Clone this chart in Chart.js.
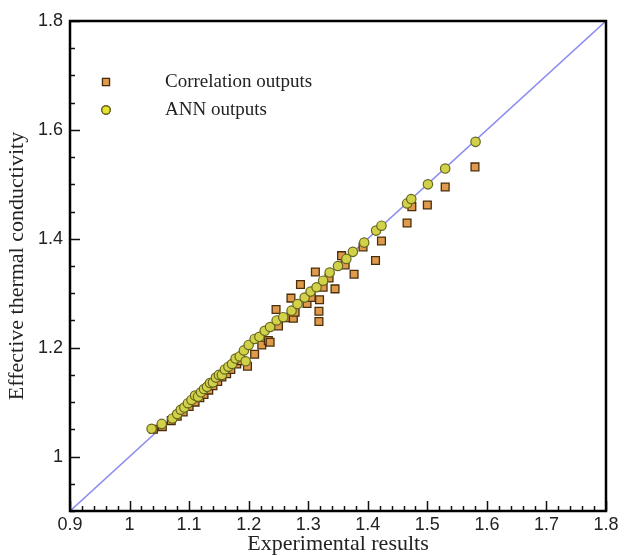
<!DOCTYPE html>
<html lang="en">
<head>
    <meta charset="utf-8">
    <title>Effective thermal conductivity</title>
    <script src="https://cdn.jsdelivr.net/npm/chart.js@4.4.0/dist/chart.umd.min.js"></script>
    <style>
        html, body { margin: 0; padding: 0; background: #fff; }
        #wrap { width: 624px; height: 555px; }
    </style>
</head>
<body>
<div id="wrap"><canvas id="myChart" width="624" height="555"></canvas></div>

<script>
    // correlation outputs (squares)
    var corrX = [1.040, 1.055, 1.070, 1.080, 1.090, 1.100, 1.110, 1.118, 1.125, 1.133,
                 1.140, 1.148, 1.155, 1.163, 1.170, 1.180, 1.188, 1.198, 1.210, 1.222,
                 1.233, 1.236, 1.246, 1.250, 1.262, 1.271, 1.275, 1.278, 1.287, 1.298,
                 1.305, 1.312, 1.318, 1.318, 1.319, 1.325, 1.335, 1.345, 1.356, 1.362,
                 1.377, 1.392, 1.413, 1.423, 1.466, 1.474, 1.500, 1.530, 1.580];
    var corrY = [1.050, 1.055, 1.066, 1.074, 1.082, 1.092, 1.100, 1.108, 1.114, 1.122,
                 1.130, 1.138, 1.146, 1.152, 1.160, 1.170, 1.176, 1.166, 1.188, 1.205,
                 1.213, 1.210, 1.270, 1.240, 1.255, 1.291, 1.254, 1.265, 1.316, 1.281,
                 1.292, 1.339, 1.267, 1.248, 1.288, 1.311, 1.328, 1.308, 1.369, 1.352,
                 1.335, 1.385, 1.360, 1.396, 1.429, 1.459, 1.462, 1.495, 1.532];

    // ANN outputs (circles)
    var annX = [1.037, 1.054, 1.072, 1.080, 1.086, 1.092, 1.098, 1.104, 1.110, 1.115,
                1.120, 1.125, 1.130, 1.135, 1.140, 1.145, 1.150, 1.155, 1.160, 1.166,
                1.172, 1.178, 1.185, 1.192, 1.195, 1.200, 1.210, 1.218, 1.227, 1.236,
                1.247, 1.258, 1.272, 1.282, 1.294, 1.304, 1.314, 1.325, 1.336, 1.350,
                1.364, 1.375, 1.394, 1.414, 1.423, 1.466, 1.473, 1.501, 1.530, 1.581];
    var annY = [1.051, 1.060, 1.070, 1.078, 1.086, 1.090, 1.098, 1.104, 1.112, 1.110,
                1.118, 1.124, 1.128, 1.135, 1.136, 1.145, 1.150, 1.150, 1.160, 1.165,
                1.170, 1.180, 1.184, 1.195, 1.175, 1.205, 1.216, 1.220, 1.231, 1.238,
                1.250, 1.256, 1.268, 1.280, 1.292, 1.303, 1.311, 1.323, 1.338, 1.350,
                1.363, 1.376, 1.393, 1.415, 1.424, 1.465, 1.473, 1.500, 1.529, 1.578];

    // y = x reference line
    var lineX = [0.9, 1.8];
    var lineY = [0.9, 1.8];

    // axis ticks
    var xTicks = [0.9, 1.0, 1.1, 1.2, 1.3, 1.4, 1.5, 1.6, 1.7, 1.8];
    var yTicks = [1.0, 1.2, 1.4, 1.6, 1.8];
    var xMinorStep = 0.02;
    var yMinorStep = 0.05;

    var toPoints = (xs, ys) => xs.map((x, i) => ({x: x, y: ys[i]}));

    // inward ticks + black frame
    var framePlugin = {
        id: 'frameTicks',
        afterDraw: (chart) => {
            var ctx = chart.ctx;
            var a = chart.chartArea;
            var sx = chart.scales.x;
            var sy = chart.scales.y;
            ctx.save();
            ctx.strokeStyle = '#111';
            ctx.lineWidth = 1.5;
            ctx.beginPath();
            for (var i = 0; i <= Math.round((sx.max - sx.min) / xMinorStep); i++) {
                var v = sx.min + i * xMinorStep;
                var px = Math.round(sx.getPixelForValue(v)) + 0.5;
                var major = i % 5 === 0;
                ctx.moveTo(px, a.bottom);
                ctx.lineTo(px, a.bottom - (major ? 10 : 5));
            }
            for (var j = 0; j <= Math.round((sy.max - sy.min) / yMinorStep); j++) {
                var w = sy.min + j * yMinorStep;
                var py = Math.round(sy.getPixelForValue(w)) + 0.5;
                var big = Math.round(w * 100) % 20 === 0;
                ctx.moveTo(a.left, py);
                ctx.lineTo(a.left + (big ? 10 : 5), py);
            }
            ctx.stroke();
            ctx.lineWidth = 2.5;
            ctx.strokeStyle = '#000';
            ctx.strokeRect(a.left, a.top, a.right - a.left, a.bottom - a.top);
            ctx.restore();
        }
    };

    // legend in the upper left corner of the plot
    var legendPlugin = {
        id: 'cornerLegend',
        afterDatasetsDraw: (chart) => {
            var ctx = chart.ctx;
            var rows = [0, 1];
            var fills = ['#e09a4c', '#e4e430'];
            ctx.save();
            rows.forEach((di, k) => {
                var ds = chart.data.datasets[di];
                var y = 82 + k * 28;
                Chart.helpers.drawPoint(ctx, {
                    pointStyle: ds.pointStyle,
                    radius: ds.pointRadius - 0.5,
                    borderWidth: ds.borderWidth
                }, 106, y);
                ctx.fillStyle = fills[k];
                ctx.strokeStyle = ds.borderColor;
                ctx.lineWidth = ds.borderWidth;
                ctx.fill();
                ctx.stroke();
                ctx.fillStyle = '#222';
                ctx.font = '19px "Liberation Serif", "Times New Roman", serif';
                ctx.textBaseline = 'middle';
                ctx.textAlign = 'left';
                ctx.fillText(ds.label, 165, y);
            });
            ctx.restore();
        }
    };

    var ctx1 = document.getElementById("myChart").getContext("2d");
    var myChart = new Chart(ctx1, {
        type: 'scatter',
        data: {
            datasets: [{
                label: 'Correlation outputs',
                data: toPoints(corrX, corrY),
                pointStyle: 'rect',
                pointRadius: 5.5,
                backgroundColor: '#e09a4c',
                borderColor: '#4a2e0c',
                borderWidth: 1.3,
                order: 1
            }, {
                label: 'ANN outputs',
                data: toPoints(annX, annY),
                pointStyle: 'circle',
                pointRadius: 4.7,
                backgroundColor: '#d2d24a',
                borderColor: '#66661f',
                borderWidth: 1.2,
                order: 0
            }, {
                label: 'y = x',
                type: 'line',
                data: toPoints(lineX, lineY),
                borderColor: '#8c8cf0',
                borderWidth: 1.6,
                pointRadius: 0,
                fill: false,
                order: 2
            }]
        },
        options: {
            responsive: false,
            animation: false,
            events: [],
            layout: {padding: {left: 0, top: 21, right: 18, bottom: 0}},
            plugins: {
                legend: {display: false},
                tooltip: {enabled: false}
            },
            scales: {
                x: {
                    type: 'linear',
                    min: 0.9,
                    max: 1.8,
                    grid: {display: false, drawTicks: false},
                    border: {display: false},
                    afterBuildTicks: (scale) => { scale.ticks = xTicks.map(v => ({value: v})); },
                    afterFit: (scale) => { scale.height = 44; },
                    ticks: {
                        padding: 3,
                        color: '#222',
                        maxRotation: 0,
                        autoSkip: false,
                        font: {family: '"Liberation Sans", Arial, sans-serif', size: 18},
                        callback: (v) => String(Math.round(v * 10) / 10)
                    },
                    title: {
                        display: true,
                        text: 'Experimental results',
                        color: '#222',
                        padding: 0,
                        font: {family: '"Liberation Serif", "Times New Roman", serif', size: 22, lineHeight: 1}
                    }
                },
                y: {
                    type: 'linear',
                    min: 0.9,
                    max: 1.8,
                    grid: {display: false, drawTicks: false},
                    border: {display: false},
                    afterBuildTicks: (scale) => { scale.ticks = yTicks.map(v => ({value: v})); },
                    afterFit: (scale) => { scale.width = 70; },
                    ticks: {
                        padding: 7,
                        color: '#222',
                        autoSkip: false,
                        font: {family: '"Liberation Sans", Arial, sans-serif', size: 18},
                        callback: (v) => String(Math.round(v * 10) / 10)
                    },
                    title: {
                        display: true,
                        text: 'Effective thermal conductivity',
                        color: '#222',
                        padding: {top: 6, bottom: 0},
                        font: {family: '"Liberation Serif", "Times New Roman", serif', size: 22, lineHeight: 1}
                    }
                }
            }
        },
        plugins: [framePlugin, legendPlugin]
    });
</script>
</body>
</html>
